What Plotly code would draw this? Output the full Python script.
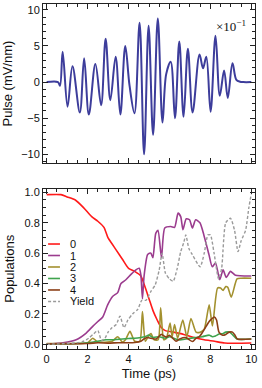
import plotly.graph_objects as go

# ---- Pulse (top panel), extrema ----
pulse_t = [0.0, 0.55, 0.65, 0.78, 1.02, 1.26, 1.62, 1.83, 2.06, 2.38, 2.66, 2.88, 3.11, 3.37, 3.60,
           3.84, 4.05, 4.29, 4.54, 4.76, 4.98, 5.20, 5.43, 5.66, 5.84, 6.06, 6.27, 6.48, 6.69,
           6.90, 7.13, 7.47, 7.64, 7.80, 8.01, 8.25, 8.46, 8.67, 8.85, 9.08, 9.27, 9.45, 9.6, 10.0]
pulse_v = [0.0, 0.0, -0.5, 4.2, -3.4, 2.2, -4.2, 3.3, -4.5, 2.5, -3.2, 6.0, -2.5, 3.5, -4.5,
           5.0, -0.5, -4.3, 8.2, -10.0, 7.8, -7.3, 8.8, -5.6, 1.1, 2.8, -5.0, 5.6, -4.8,
           4.6, -4.2, 3.8, 1.9, 3.5, -4.1, 6.4, -1.9, 1.6, -2.2, 2.6, 0.3, 0.05, 0.0, 0.0]

# ---- Populations (bottom panel) ----
p0_t = [0, 0.7, 1.0, 1.4, 1.8, 2.2, 2.5, 2.8, 3.0, 3.2, 3.4, 3.7, 4.0, 4.3, 4.6, 4.8, 5.0, 5.2,
        5.4, 5.6, 5.8, 6.2, 6.7, 7.2, 7.7, 8.2, 8.7, 10]
p0_v = [0.985, 0.985, 0.97, 0.95, 0.90, 0.84, 0.81, 0.77, 0.70, 0.66, 0.62, 0.56, 0.50, 0.48,
        0.45, 0.38, 0.30, 0.22, 0.16, 0.11, 0.09, 0.08, 0.065, 0.045, 0.03, 0.02, 0.008, 0.008]

p1_t = [0, 0.8, 1.44, 1.93, 2.25, 2.5, 2.74, 2.98, 3.22, 3.47, 3.63, 3.87, 4.12, 4.36, 4.52,
        4.6, 4.68, 4.76, 4.93, 5.02, 5.09, 5.19, 5.33, 5.44, 5.61, 5.77, 6.06, 6.25, 6.42, 6.55,
        6.66, 6.82, 6.98, 7.12, 7.28, 7.49, 7.68, 7.93, 8.09, 8.25, 8.46, 8.62, 8.78, 8.98,
        9.22, 10]
p1_v = [0.0, 0.01, 0.03, 0.074, 0.118, 0.15, 0.18, 0.26, 0.315, 0.34, 0.40, 0.425, 0.46,
        0.49, 0.50, 0.46, 0.30, 0.45, 0.59, 0.60, 0.60, 0.57, 0.73, 0.75, 0.57, 0.765, 0.775,
        0.77, 0.864, 0.84, 0.754, 0.826, 0.82, 0.765, 0.82, 0.80, 0.72, 0.59, 0.51, 0.535,
        0.425, 0.49, 0.44, 0.48, 0.455, 0.45]

p2_t = [0, 1.5, 2.0, 2.25, 2.5, 3.2, 3.47, 3.7, 3.85, 4.07, 4.3, 4.55, 4.68, 4.82, 5.0, 5.1,
        5.25, 5.45, 5.57, 5.72, 5.85, 6.03, 6.13, 6.25, 6.4, 6.65, 6.85, 7.05, 7.3, 7.5, 7.7,
        7.94, 8.1, 8.35, 8.5, 8.62, 8.75, 8.85, 9.02, 9.3, 9.5, 10]
p2_v = [0.005, 0.005, 0.01, 0.04, 0.015, 0.02, 0.05, 0.015, 0.03, 0.085, 0.02, 0.02, 0.215,
        0.02, 0.06, 0.07, 0.03, 0.03, 0.24, 0.03, 0.04, 0.14, 0.05, 0.13, 0.04, 0.16, 0.05,
        0.17, 0.08, 0.08, 0.10, 0.26, 0.12, 0.37, 0.37, 0.355, 0.38, 0.375, 0.31, 0.43, 0.435,
        0.435]

p3_t = [0, 1.5, 2.0, 2.5, 2.9, 3.3, 3.7, 4.0, 4.3, 4.6, 4.8, 5.0, 5.2, 5.5, 5.8, 6.0, 6.3,
        6.5, 6.8, 7.0, 7.3, 7.6, 7.95, 8.1, 8.25, 8.43, 8.6, 8.75, 8.95, 9.1, 9.3, 10]
p3_v = [0.003, 0.005, 0.01, 0.02, 0.03, 0.03, 0.035, 0.038, 0.04, 0.045, 0.05, 0.06, 0.045,
        0.05, 0.04, 0.05, 0.035, 0.028, 0.035, 0.04, 0.045, 0.05, 0.06, 0.05, 0.055, 0.068,
        0.07, 0.08, 0.08, 0.06, 0.035, 0.035]

p4_t = [0, 2.0, 2.5, 3.0, 3.5, 4.0, 4.3, 4.6, 4.75, 4.9, 5.1, 5.35, 5.6, 5.84, 6.0, 6.16,
        6.32, 6.5, 6.8, 7.13, 7.3, 7.46, 7.62, 7.8, 7.94, 8.05, 8.2, 8.3, 8.42, 8.6, 8.75,
        8.92, 9.08, 9.2, 9.32, 10]
p4_v = [0.003, 0.005, 0.01, 0.008, 0.01, 0.01, 0.012, 0.02, 0.035, 0.045, 0.04, 0.035, 0.065,
        0.047, 0.06, 0.04, 0.02, 0.035, 0.044, 0.018, 0.04, 0.05, 0.08, 0.12, 0.15, 0.165,
        0.18, 0.16, 0.08, 0.06, 0.065, 0.08, 0.08, 0.06, 0.035, 0.035]

yield_t = [0, 1.0, 1.5, 1.8, 2.05, 2.3, 2.5, 2.68, 2.85, 3.0, 3.2, 3.4, 3.58, 3.78, 3.97,
           4.2, 4.45, 4.65, 4.85, 5.1, 5.3, 5.5, 5.64, 5.8, 6.0, 6.18, 6.38, 6.55, 6.7, 6.8,
           6.95, 7.12, 7.5, 7.7, 7.88, 8.0, 8.18, 8.4, 8.55, 8.75, 8.98, 9.18, 9.35, 9.5,
           9.72, 9.88, 10]
yield_v = [0.0, 0.005, 0.01, 0.02, 0.04, 0.07, 0.09, 0.025, 0.04, 0.08, 0.11, 0.13, 0.185,
           0.11, 0.16, 0.2, 0.23, 0.29, 0.29, 0.35, 0.39, 0.49, 0.6, 0.47, 0.43, 0.415, 0.5,
           0.61, 0.67, 0.72, 0.63, 0.59, 0.51, 0.6, 0.72, 0.72, 0.6, 0.43, 0.5, 0.8, 0.83,
           0.75, 0.61, 0.68, 0.75, 0.9, 0.99]

legend_names = ["0", "1", "2", "3", "4", "Yield"]
x_ticks = [0, 2, 4, 6, 8, 10]
pulse_ticks = [-10, -5, 0, 5, 10]
pop_ticks = [0.0, 0.2, 0.4, 0.6, 0.8, 1.0]

colors = ["#ff1a1a", "#9b3c8e", "#a3912f", "#3fa34d", "#8c3f17", "#9a9a9a"]
series = [(p0_t, p0_v), (p1_t, p1_v), (p2_t, p2_v), (p3_t, p3_v), (p4_t, p4_v), (yield_t, yield_v)]

fig = go.Figure()
fig.add_trace(go.Scatter(x=pulse_t, y=pulse_v, mode="lines", xaxis="x", yaxis="y",
                         line=dict(color="#3d3d9b", width=2, shape="spline", smoothing=1.0),
                         showlegend=False))
for i, (t, v) in enumerate(series):
    dash = "3px,2px" if i == 5 else "solid"
    fig.add_trace(go.Scatter(x=t, y=v, mode="lines", xaxis="x2", yaxis="y2", name=legend_names[i],
                             line=dict(color=colors[i], width=1.6 if i < 5 else 1.4, dash=dash,
                                       shape="spline", smoothing=0.6),
                             showlegend=False))

font_sans = "Liberation Sans, Arial, sans-serif"
axis_common = dict(range=[-0.18, 10.18], showline=True, mirror="allticks", linecolor="#222",
                   linewidth=1, ticks="inside", ticklen=5, tickwidth=1, tickcolor="#222",
                   showgrid=False, zeroline=False, tickvals=x_ticks, automargin=False,
                   minor=dict(dtick=0.5, tick0=0, ticks="inside", ticklen=3, tickcolor="#222",
                              showgrid=False))

fig.update_layout(
    width=262, height=388, autosize=False,
    margin=dict(l=43, r=7, t=4, b=39, autoexpand=False),
    paper_bgcolor="white", plot_bgcolor="white",
    font=dict(family=font_sans, size=11, color="#111"),
    xaxis=dict(axis_common, domain=[0, 1], anchor="y", showticklabels=False),
    yaxis=dict(domain=[0.539, 1], anchor="x", range=[-11.2, 10.8], showline=True,
               mirror="allticks", linecolor="#222", linewidth=1, ticks="inside", ticklen=5,
               tickcolor="#222", showgrid=False, zeroline=False, tickvals=pulse_ticks,
               automargin=False,
               minor=dict(dtick=1, tick0=0, ticks="inside", ticklen=3, tickcolor="#222"),
               title=dict(text="Pulse (mV/nm)", font=dict(size=13), standoff=6)),
    xaxis2=dict(axis_common, domain=[0, 1], anchor="y2",
                title=dict(text="Time (ps)", font=dict(size=13), standoff=4)),
    yaxis2=dict(domain=[0, 0.465], anchor="x2", range=[-0.031, 1.025], showline=True,
                mirror="allticks", linecolor="#222", linewidth=1, ticks="inside", ticklen=5,
                tickcolor="#222", showgrid=False, zeroline=False, tickvals=pop_ticks,
                tickformat=".1f", automargin=False,
                minor=dict(dtick=0.05, tick0=0, ticks="inside", ticklen=3, tickcolor="#222"),
                title=dict(text="Populations", font=dict(size=13), standoff=6)),
)

# x10^-1 note
fig.add_annotation(xref="paper", yref="paper", x=0.965, y=0.936, xanchor="right", yanchor="middle",
                   text="×10<sup>−1</sup>", showarrow=False,
                   font=dict(family="Liberation Serif, Times New Roman, serif", size=13, color="#111"))

# manual legend (compact, as in the reference)
leg_y0 = 0.3043
leg_dy = 0.0333
for i, name in enumerate(legend_names):
    yy = leg_y0 - i * leg_dy
    fig.add_shape(type="line", xref="paper", yref="paper", x0=0.024, x1=0.080, y0=yy, y1=yy,
                  line=dict(color=colors[i], width=1.6 if i < 5 else 1.4,
                            dash="3px,2px" if i == 5 else "solid"))
    fig.add_annotation(xref="paper", yref="paper", x=0.118, y=yy, xanchor="left", yanchor="middle",
                       text=name, showarrow=False, font=dict(size=11, color="#111"))

fig.write_html("out.html", config={"displayModeBar": False},
               post_script="document.body.style.margin='0';document.body.style.padding='0';")
